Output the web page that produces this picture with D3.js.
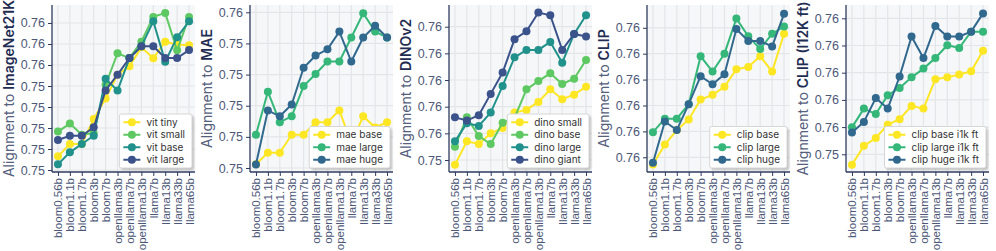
<!DOCTYPE html>
<html>
<head>
<meta charset="utf-8">
<script src="https://cdn.jsdelivr.net/npm/d3@7"></script>
<style>
  body { margin: 0; background: #fff; }
  svg { display: block; font-family: Inter, "Noto Sans", sans-serif; }
</style>
</head>
<body>
<div id="chart"></div>
<script>
// x categories (language models)
const models = ["bloom0.56b", "bloom1.1b", "bloom1.7b", "bloom3b", "bloom7b",
  "openllama3b", "openllama7b", "openllama13b", "llama7b", "llama13b", "llama33b", "llama65b"];

// vision model names (y titles)
const targets = ["ImageNet21K", "MAE", "DINOv2", "CLIP", "CLIP (I12K ft)"];

// series names per panel
const seriesNames = [
  ["vit tiny", "vit small", "vit base", "vit large"],
  ["mae base", "mae large", "mae huge"],
  ["dino small", "dino base", "dino large", "dino giant"],
  ["clip base", "clip large", "clip huge"],
  ["clip base i1k ft", "clip large i1k ft", "clip huge i1k ft"]
];

// alignment values
const imagenetValues = [
  [0.75115, 0.75174, 0.75174, 0.75293, 0.75390, 0.75504, 0.75544, 0.75634, 0.75582, 0.75661, 0.75647, 0.75644],
  [0.75233, 0.75271, 0.75218, 0.75226, 0.75456, 0.75606, 0.75583, 0.75661, 0.75779, 0.75798, 0.75620, 0.75779],
  [0.75077, 0.75134, 0.75174, 0.75213, 0.75485, 0.75428, 0.75583, 0.75639, 0.75758, 0.75566, 0.75682, 0.75758],
  [0.75193, 0.75213, 0.75213, 0.75253, 0.75429, 0.75504, 0.75583, 0.75639, 0.75639, 0.75583, 0.75583, 0.75621]
];
const maeValues = [
  [0.75062, 0.75099, 0.75099, 0.75157, 0.75157, 0.75197, 0.75197, 0.75235, 0.75130, 0.75216, 0.75180, 0.75197],
  [0.75157, 0.75295, 0.75197, 0.75216, 0.75313, 0.75352, 0.75392, 0.75392, 0.75469, 0.75547, 0.75488, 0.75469],
  [0.75061, 0.75235, 0.75216, 0.75254, 0.75372, 0.75411, 0.75431, 0.75488, 0.75392, 0.75469, 0.75507, 0.75469]
];
const dinoValues = [
  [0.75432, 0.75520, 0.75510, 0.75550, 0.75570, 0.75628, 0.75638, 0.75668, 0.75715, 0.75678, 0.75695, 0.75725],
  [0.75500, 0.75610, 0.75540, 0.75510, 0.75590, 0.75608, 0.75715, 0.75746, 0.75775, 0.75735, 0.75755, 0.75825],
  [0.75520, 0.75588, 0.75578, 0.75628, 0.75728, 0.75835, 0.75863, 0.75863, 0.75893, 0.75815, 0.75923, 0.75993],
  [0.75610, 0.75598, 0.75618, 0.75698, 0.75778, 0.75903, 0.75933, 0.76003, 0.75993, 0.75863, 0.75923, 0.75913]
];
const clipValues = [
  [0.75522, 0.75599, 0.75655, 0.75696, 0.75773, 0.75791, 0.75822, 0.75890, 0.75899, 0.75940, 0.75881, 0.76027],
  [0.75647, 0.75699, 0.75699, 0.75755, 0.75940, 0.75881, 0.75950, 0.76086, 0.76017, 0.75968, 0.76027, 0.76055],
  [0.75529, 0.75688, 0.75655, 0.75755, 0.75863, 0.75832, 0.75871, 0.76045, 0.75999, 0.75999, 0.75978, 0.76104]
];
const clipFtValues = [
  [0.75412, 0.75481, 0.75510, 0.75559, 0.75579, 0.75628, 0.75618, 0.75726, 0.75733, 0.75743, 0.75755, 0.75831],
  [0.75549, 0.75618, 0.75598, 0.75667, 0.75694, 0.75733, 0.75765, 0.75804, 0.75851, 0.75841, 0.75901, 0.75901],
  [0.75530, 0.75569, 0.75657, 0.75618, 0.75736, 0.75883, 0.75804, 0.75922, 0.75883, 0.75883, 0.75901, 0.75968]
];
const panelValues = [imagenetValues, maeValues, dinoValues, clipValues, clipFtValues];

// y tick values per panel (labels are rounded to 2 decimals)
const yTicks = [
  [0.7505, 0.7515, 0.7525, 0.7535, 0.7545, 0.7555, 0.7565, 0.7575],
  [0.7505, 0.7515, 0.7525, 0.7535, 0.7545, 0.7555],
  [0.7545, 0.7555, 0.7565, 0.7575, 0.7585, 0.7595],
  [0.7555, 0.7565, 0.7575, 0.7585, 0.7595, 0.7605],
  [0.7545, 0.7555, 0.7565, 0.7575, 0.7585, 0.7595]
];
const yDomains = [
  [0.750405, 0.758357],
  [0.750372, 0.755734],
  [0.754050, 0.760314],
  [0.754932, 0.761380],
  [0.753849, 0.759989]
];

// layout
const W = 996, H = 251;
const panelLeft = [52, 250, 449, 647, 846];
const plotW = 143, plotTop = 5, plotBottom = 172;
const axisColor = "#2e3b5e", textColor = "#4d5878", titleColor = "#1f2d52";

const svg = d3.select("#chart").append("svg")
  .attr("width", W).attr("height", H);

const defs = svg.append("defs");
defs.append("filter").attr("id", "blur")
  .append("feGaussianBlur").attr("stdDeviation", 0.8);

panelValues.forEach((vals, p) => {
  const g = svg.append("g").attr("transform", `translate(${panelLeft[p]},0)`);
  const names = seriesNames[p];
  const n = names.length;
  const color = i => d3.interpolateViridis(1 - i / n);

  const x = d3.scalePoint().domain(models).range([0, plotW]).padding(0.5);
  const y = d3.scaleLinear().domain(yDomains[p]).range([plotBottom, plotTop]);

  // background
  g.append("rect")
    .attr("x", 0).attr("y", plotTop)
    .attr("width", plotW).attr("height", plotBottom - plotTop)
    .attr("fill", "#f6f7f9");

  // grid
  g.append("g").selectAll("line").data(models).join("line")
    .attr("x1", d => x(d)).attr("x2", d => x(d))
    .attr("y1", plotTop).attr("y2", plotBottom)
    .attr("stroke", "#e3e5e8").attr("stroke-width", 1.2);
  g.append("g").selectAll("line").data(yTicks[p]).join("line")
    .attr("x1", 0).attr("x2", plotW)
    .attr("y1", d => y(d)).attr("y2", d => y(d))
    .attr("stroke", "#e3e5e8").attr("stroke-width", 1.2);

  // axes
  const yAxis = g.append("g")
    .call(d3.axisLeft(y).tickValues(yTicks[p]).tickFormat(d3.format(".2f")).tickSize(4).tickPadding(3));
  yAxis.select(".domain").attr("stroke", axisColor).attr("stroke-width", 1.3)
    .attr("d", `M0,${plotTop}V${plotBottom}`);
  yAxis.selectAll(".tick line").attr("stroke", axisColor);
  yAxis.selectAll(".tick text")
    .attr("fill", textColor).style("font-size", "12.5px");

  const xAxis = g.append("g").attr("transform", `translate(0,${plotBottom})`)
    .call(d3.axisBottom(x).tickSize(4).tickPadding(3));
  xAxis.select(".domain").attr("stroke", axisColor).attr("stroke-width", 1.3)
    .attr("d", `M0,0H${plotW}`);
  xAxis.selectAll(".tick line").attr("stroke", axisColor);
  xAxis.selectAll(".tick text")
    .attr("fill", textColor).style("font-size", "11.5px")
    .attr("text-anchor", "end")
    .attr("transform", "rotate(-90)")
    .attr("x", -6).attr("y", 0).attr("dy", "0.35em");

  // y title
  const title = g.append("text")
    .attr("transform", `translate(-38,${(plotTop + plotBottom) / 2}) rotate(-90)`)
    .attr("text-anchor", "middle")
    .style("font-size", "14px");
  title.append("tspan").attr("fill", "#55607d").text("Alignment to ");
  title.append("tspan").attr("fill", titleColor).attr("font-weight", 600).text(targets[p]);

  // lines and markers
  const line = d3.line().x((d, i) => x(models[i])).y(d => y(d));
  vals.forEach((series, s) => {
    g.append("path").datum(series)
      .attr("d", line)
      .attr("fill", "none")
      .attr("stroke", color(s))
      .attr("stroke-width", 2);
    g.append("g").selectAll("circle").data(series).join("circle")
      .attr("cx", (d, i) => x(models[i]))
      .attr("cy", d => y(d))
      .attr("r", 4)
      .attr("fill", color(s));
  });

  // legend (lower right)
  const rowH = 12.5;
  const leg = g.append("g");
  const labels = leg.selectAll("text.lab").data(names).join("text")
    .attr("class", "lab")
    .attr("fill", "#333")
    .style("font-size", "10px")
    .attr("dy", "0.35em")
    .text(d => d);
  const maxW = d3.max(labels.nodes(), nd => nd.getComputedTextLength());
  const boxW = 27 + maxW + 7;
  const boxH = n * rowH + 4;
  const bx = plotW - boxW - 3;
  const by = plotBottom - boxH - 4;
  leg.insert("rect", "text")
    .attr("x", bx + 2).attr("y", by + 2)
    .attr("width", boxW).attr("height", boxH)
    .attr("rx", 2).attr("fill", "#9a9a9a").attr("opacity", 0.6)
    .attr("filter", "url(#blur)");
  leg.insert("rect", "text")
    .attr("x", bx).attr("y", by)
    .attr("width", boxW).attr("height", boxH)
    .attr("rx", 2).attr("fill", "#fff").attr("stroke", "#d6d6d6");
  const rowY = i => by + 2 + rowH * i + rowH / 2;
  labels.attr("x", bx + 27).attr("y", (d, i) => rowY(i));
  leg.selectAll("line.key").data(names).join("line")
    .attr("class", "key")
    .attr("x1", bx + 4).attr("x2", bx + 21)
    .attr("y1", (d, i) => rowY(i)).attr("y2", (d, i) => rowY(i))
    .attr("stroke", (d, i) => color(i)).attr("stroke-width", 2);
  leg.selectAll("circle.key").data(names).join("circle")
    .attr("class", "key")
    .attr("cx", bx + 12.5).attr("cy", (d, i) => rowY(i))
    .attr("r", 4).attr("fill", (d, i) => color(i));
});
</script>
</body>
</html>
